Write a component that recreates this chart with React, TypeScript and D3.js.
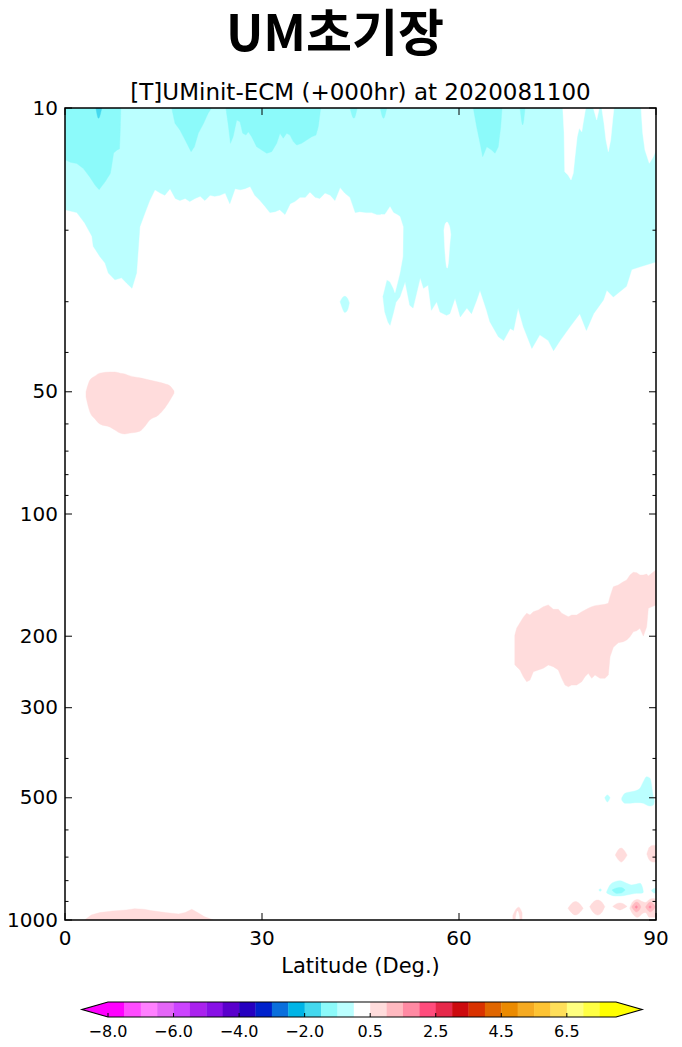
import React from "react";
import * as d3 from "d3";

const W = 682;
const H = 1047;
const PLOT = { left: 65, right: 656, top: 108, bottom: 920 };
const FONT = "DejaVu Sans, Verdana, sans-serif";

// Contour levels of the temperature difference (K) and the fill of each band
const LEVELS = [-8, -7.5, -7, -6.5, -6, -5.5, -5, -4.5, -4, -3.5, -3, -2.5, -2, -1.5, -1, -0.5,
  0.5, 1, 1.5, 2, 2.5, 3, 3.5, 4, 4.5, 5, 5.5, 6, 6.5, 7, 7.5, 8];
const COLORS = ["#ff00ff", "#ff4cff", "#ff80ff", "#e466f7", "#cc44ff", "#aa22ee", "#8811e6", "#5a00cc",
  "#2600c0", "#0022cc", "#0a6fdc", "#00b4e6", "#44d8ee", "#8cfafa", "#bbffff", "#ffffff",
  "#ffdcdc", "#ffb9c0", "#ff8aa3", "#ff4c7c", "#e6284a", "#cc0a0e", "#d93200", "#e06600",
  "#eb8a00", "#f5aa22", "#fdc333", "#ffdf5a", "#ffff80", "#ffff44", "#ffff00"];
const UNDER_COLOR = "#ff00ff";
const OVER_COLOR = "#ffff00";
const CBAR_TICKS = [-8, -6, -4, -2, 0.5, 2.5, 4.5, 6.5];

const LAT_TICKS = [0, 30, 60, 90];
const P_MAJOR = [10, 50, 100, 200, 300, 500, 1000];
const P_MINOR = [20, 30, 40, 60, 70, 80, 90, 400, 600, 700, 800, 900];

type Pair = [number, number];
type Band = [number, number, number]; // latitude, upper pressure, lower pressure

// Lower edge (hPa) of the -1.0..-0.5 K layer hanging from the model top
const coolLayerEdge: Pair[] = [[0, 17.8], [1.8, 18.1], [3.0, 19.2], [4.1, 20.7], [4.3, 21.9], [5.3, 23.2], [6.1, 24.1],
  [6.6, 25.5], [7.6, 26.5], [8.6, 26.2], [9.4, 27.0], [10.2, 27.8], [10.9, 25.5], [11.4, 19.6], [12.2, 18.1],
  [12.9, 16.9], [13.7, 15.9], [14.5, 16.2], [15.2, 16.4], [16.0, 15.8], [16.8, 16.7], [17.5, 16.9], [18.3, 16.7],
  [19.0, 17.0], [19.8, 16.7], [20.6, 16.5], [21.3, 16.9], [22.1, 16.4], [22.8, 16.5], [23.6, 16.4], [24.4, 16.2],
  [25.1, 17.2], [25.9, 15.8], [26.7, 15.9], [27.4, 15.8], [28.2, 15.6], [28.9, 16.4], [29.7, 16.9], [30.5, 17.5],
  [31.2, 18.1], [32.0, 18.0], [32.7, 17.8], [33.5, 18.3], [34.3, 17.2], [35.0, 17.0], [35.8, 16.6], [36.6, 16.6],
  [37.3, 16.1], [38.1, 16.6], [38.8, 16.7], [39.6, 16.2], [40.4, 16.4], [41.1, 16.9], [41.9, 15.7], [42.6, 16.2],
  [43.4, 16.6], [44.2, 18.1], [44.9, 18.0], [45.9, 18.1], [46.7, 18.1], [47.5, 18.3], [48.3, 18.3], [48.4, 29.0],
  [48.7, 31.8], [49.2, 33.7], [49.5, 34.3], [50.0, 32.0], [50.4, 30.1], [51.0, 29.2], [51.8, 26.8], [52.5, 30.6],
  [53.0, 31.1], [54.1, 26.2], [54.6, 27.8], [55.3, 27.3], [55.8, 31.5], [56.6, 30.0], [57.1, 31.8], [58.1, 32.4],
  [58.6, 32.1], [59.4, 29.4], [60.2, 32.7], [61.2, 31.1], [61.9, 32.1], [62.7, 29.7], [63.2, 28.1], [64.2, 31.5],
  [64.7, 33.6], [66.0, 36.6], [66.8, 37.4], [67.8, 34.9], [68.3, 35.3], [69.0, 31.1], [69.8, 34.6], [71.1, 39.1],
  [72.3, 36.2], [73.6, 37.4], [74.4, 39.6], [75.4, 37.4], [76.9, 34.6], [78.4, 32.1], [79.4, 35.3], [80.5, 32.1],
  [82.0, 29.7], [82.5, 28.1], [83.5, 29.2], [85.5, 27.5], [86.3, 25.0], [87.6, 24.6], [89.8, 24.0], [90, 24.0]];

// Near-zero pockets inside that layer
const notch50N: Band[] = [[48.1, 18.3, 29.0], [48.4, 18.3, 29.0], [48.7, 18.3, 27.7], [49.0, 18.0, 26.5],
  [49.5, 17.5, 26.8], [50.0, 18.1, 27.8], [50.25, 18.2, 28.5], [50.55, 18.3, 27.3], [51.0, 18.5, 25.5],
  [51.45, 19.5, 23.2], [51.5, 19.6, 19.6]];
const sliver58N: Band[] = [[57.7, 20.0, 20.0], [57.9, 19.3, 23.0], [58.2, 19.1, 24.8], [58.4, 19.3, 23.9],
  [58.6, 19.7, 21.7], [58.75, 20.5, 20.5]];
const topGap76N: Pair[] = [[75.8, 10], [76.0, 11.5], [76.1, 14.35], [76.6, 14.62], [77.06, 15.04], [77.4, 14.48],
  [77.66, 13.18], [78.0, 11.77], [78.3, 11.22], [78.7, 11.44], [78.9, 10.91], [79.3, 10]];
const topGap81N: Pair[] = [[80.45, 10], [80.97, 10.7], [81.37, 10]];
const topGap83N: Pair[] = [[81.73, 10], [82.08, 10.91], [82.38, 11.99], [82.74, 12.81], [83.1, 11.99],
  [83.4, 10.7], [83.6, 10]];
const topGap88N: Pair[] = [[87.72, 10], [87.97, 11.52], [88.32, 12.69], [88.98, 13.68], [89.59, 13.18], [90, 12.7]];

// Isolated -1.0..-0.5 K cell near 30 hPa
const islet43N: Band[] = [[41.9, 30.0, 30.0], [42.2, 29.4, 31.0], [42.6, 29.1, 31.9], [43.0, 29.4, 31.5], [43.3, 30.2, 30.2]];

// -1.5..-1.0 K cores under the model top
const coreEq: Pair[] = [[0, 13.4], [0.8, 13.6], [1.8, 13.7], [2.8, 14.1], [3.8, 14.8], [4.6, 15.5], [5.2, 15.9],
  [5.3, 15.8], [6.1, 15.2], [6.9, 14.5], [7.1, 13.9], [7.4, 12.9], [7.9, 12.7], [8.3, 12.6], [8.4, 11.5], [8.5, 10]];
const core19N: Pair[] = [[16.25, 10], [16.75, 10.91], [17.5, 11.33], [18.3, 11.99], [19.2, 12.81], [19.7, 12.46],
  [20.3, 11.54], [21.1, 10.91], [21.8, 10.3], [22.3, 10]];
const core31N: Pair[] = [[24.5, 10], [24.9, 11.12], [25.2, 12.22], [25.6, 11.77], [26.15, 10.7], [26.65, 10.81],
  [27.06, 11.54], [27.56, 11.66], [27.91, 11.44], [28.43, 11.77], [29.19, 12.46], [29.95, 12.69], [30.72, 12.93],
  [31.48, 12.81], [32.24, 12.22], [32.74, 11.54], [33.24, 11.87], [33.76, 11.54], [34.26, 11.66], [34.77, 12.1],
  [35.28, 12.34], [36.05, 12.22], [36.81, 11.99], [37.57, 11.77], [38.22, 11.66], [38.57, 11.12], [38.94, 10]];
const core44N: Pair[] = [[43.4, 10], [44.0, 10.6], [44.5, 10]];
const core48N: Pair[] = [[48.0, 10], [48.5, 10.6], [49.0, 10]];
const core64N: Pair[] = [[62.18, 10], [62.69, 11.12], [63.2, 12.2], [63.61, 13.18], [64.22, 12.46], [64.98, 12.69],
  [65.48, 12.93], [65.98, 12.46], [66.35, 11.12], [66.55, 10]];
const core70N: Pair[] = [[69.3, 10], [69.7, 11.0], [70.05, 10]];
// -2.0..-1.5 K speck
const speck5N: Pair[] = [[4.7, 10], [5.1, 10.6], [5.6, 10]];

// Warm (+0.5..+1.0 K) cells
const warm50hPa: Band[] = [[3.2, 50.0, 51.5], [3.8, 46.8, 56.1], [4.6, 45.7, 58.4], [5.3, 45.0, 60.0], [6.9, 44.7, 61.1],
  [7.6, 44.7, 62.1], [8.4, 45.0, 63.2], [9.1, 45.2, 63.5], [9.9, 45.7, 63.2], [11.4, 46.2, 62.5], [12.2, 46.5, 60.7],
  [12.9, 46.8, 58.7], [14.2, 47.3, 57.1], [15.2, 47.8, 54.8], [16.0, 48.4, 52.4], [16.6, 49.8, 50.4]];
const warm200hPa: Band[] = [[68.5, 199, 235], [68.78, 191.2, 237.7], [69.29, 185.2, 242.2], [69.8, 179.7, 251.6],
  [70.31, 175.6, 258.8], [70.81, 177.4, 256.4], [71.32, 174.1, 244.6], [72.08, 172.4, 242.2], [72.84, 169.2, 239.9],
  [73.6, 167.5, 235.4], [74.36, 171.7, 237.7], [75.12, 171.7, 242.2], [75.64, 175.6, 253.9], [76.14, 177.4, 263.8],
  [76.65, 179.1, 266.3], [77.16, 177.4, 263.8], [77.93, 177.4, 263.8], [78.69, 174.1, 258.8], [79.19, 172.4, 251.6],
  [79.69, 170.7, 246.9], [80.21, 169.2, 253.9], [80.71, 168.2, 249.2], [81.47, 167.5, 253.9], [82.23, 166.9, 253.9],
  [82.74, 165.9, 249.2], [83.0, 159.8, 224.6], [83.5, 151.1, 213.0], [84.26, 149.6, 207.5], [85.02, 146.9, 206.3],
  [85.54, 145.4, 204.4], [86.04, 141.4, 200.6], [86.54, 139.2, 195.0], [87.06, 139.5, 193.9], [87.56, 141.4, 191.2],
  [88.07, 141.4, 199.8], [88.58, 140.6, 189.6], [88.83, 142.2, 170.7], [89.35, 140.0, 169.2], [90, 137.4, 167.5]];
const warmSurface: Band[] = [[3.0, 1000, 1000], [4.0, 972, 1000], [5.3, 959, 1000], [7.3, 950, 1000], [9.3, 945, 1000],
  [10.6, 938, 1000], [12.0, 941, 1000], [13.3, 949, 1000], [15.3, 959, 1000], [17.3, 966, 1000], [18.3, 959, 1000],
  [19.3, 941, 1000], [20.2, 959, 1000], [21.2, 981, 1000], [22.6, 1000, 1000]];
const warm69N: Band[] = [[68.2, 975, 1000], [68.6, 945, 1000], [69.1, 930, 1000], [69.6, 960, 1000]];
const warm69NGap: Band[] = [[68.65, 985, 1000], [68.9, 950, 1000], [69.2, 985, 1000]];
const warm85N650: Band[] = [[83.8, 692, 692], [84.3, 670, 712], [84.7, 665, 720], [85.1, 672, 712], [85.6, 692, 692]];
const warm89N650: Band[] = [[88.6, 688, 688], [89.0, 662, 712], [89.5, 655, 720], [90, 655, 720]];
const warm77N950: Band[] = [[76.6, 936, 936], [77.2, 910, 962], [77.7, 901, 972], [78.3, 910, 962], [78.9, 936, 936]];
const warm81N950: Band[] = [[79.9, 927, 927], [80.5, 902, 960], [81.1, 893, 972], [81.7, 902, 960], [82.2, 927, 927]];
const warm85N950: Band[] = [[83.4, 926, 926], [84.0, 912, 938], [84.5, 908, 945], [85.0, 912, 938], [85.6, 926, 926]];
const warm88N950: Band[] = [[86.0, 935, 935], [86.5, 900, 968], [87.2, 890, 985], [88.0, 902, 962], [88.4, 905, 958],
  [89.0, 890, 985], [89.6, 885, 985], [90, 890, 985]];
// +1.0..+1.5 K and +1.5..+2.0 K kernels
const warmer87N: Band[] = [[86.3, 929, 929], [86.7, 910, 948], [87.0, 903, 956], [87.4, 910, 948], [87.7, 929, 929]];
const warmer89N: Band[] = [[88.4, 929, 929], [88.8, 910, 948], [89.1, 903, 956], [89.5, 910, 948], [89.9, 929, 929]];
const hot87N: Band[] = [[86.8, 929, 929], [87.0, 922, 936], [87.2, 929, 929]];
const hot89N: Band[] = [[88.9, 929, 929], [89.1, 922, 936], [89.3, 929, 929]];

// Cool cells in the lower troposphere
const cool87N500: Band[] = [[84.78, 500.6, 506.3], [85.28, 487.4, 515.9], [86.04, 483.8, 515.9], [86.8, 481.1, 514.1],
  [87.56, 473.8, 514.1], [88.07, 456.4, 515.9], [88.58, 443.7, 521.0], [89.09, 447.7, 523.9], [89.6, 496.9, 521.0],
  [89.75, 510, 510]];
const cool83N500: Band[] = [[82.2, 500, 500], [82.6, 492, 512], [83.0, 500, 500]];
const cool85N850: Band[] = [[82.49, 851.6, 858], [83.0, 819.8, 866.4], [83.76, 804.8, 872.8], [84.52, 800.2, 872.8],
  [85.54, 812.1, 867.9], [86.3, 819.8, 863.0], [87.06, 815.3, 859.6], [87.56, 812.1, 859.6], [87.97, 835.3, 858.0],
  [88.07, 851.6, 851.6]];
const cool90N850: Band[] = [[89.3, 846, 846], [89.7, 836, 858], [90, 836, 858]];
const cool81N850: Band[] = [[81.3, 843, 843], [81.5, 837, 850], [81.7, 843, 843]];
const cooler84N850: Band[] = [[83.3, 844, 844], [84.0, 834, 860], [84.7, 832, 858], [85.3, 844, 844]];

const fromTop = (pts: Pair[]): Band[] => pts.map(([lat, p]) => [lat, 10, p]);

type Feature = { value: number; band: Band[]; smooth?: boolean };

// Painted in order: broad layers first, then pockets, cores and small cells
const FEATURES: Feature[] = [
  { value: -0.75, band: fromTop(coolLayerEdge) },
  { value: 0, band: notch50N },
  { value: 0, band: sliver58N, smooth: true },
  { value: 0, band: fromTop(topGap76N) },
  { value: 0, band: fromTop(topGap81N) },
  { value: 0, band: fromTop(topGap83N) },
  { value: 0, band: fromTop(topGap88N) },
  { value: -0.75, band: islet43N, smooth: true },
  { value: -1.25, band: fromTop(coreEq) },
  { value: -1.25, band: fromTop(core19N) },
  { value: -1.25, band: fromTop(core31N) },
  { value: -1.25, band: fromTop(core44N), smooth: true },
  { value: -1.25, band: fromTop(core48N), smooth: true },
  { value: -1.25, band: fromTop(core64N) },
  { value: -1.25, band: fromTop(core70N), smooth: true },
  { value: -1.75, band: fromTop(speck5N), smooth: true },
  { value: 0.75, band: warm50hPa, smooth: true },
  { value: 0.75, band: warm200hPa },
  { value: 0.75, band: warmSurface },
  { value: 0.75, band: warm69N, smooth: true },
  { value: 0, band: warm69NGap, smooth: true },
  { value: 0.75, band: warm85N650, smooth: true },
  { value: 0.75, band: warm89N650, smooth: true },
  { value: 0.75, band: warm77N950, smooth: true },
  { value: 0.75, band: warm81N950, smooth: true },
  { value: 0.75, band: warm85N950, smooth: true },
  { value: 0.75, band: warm88N950, smooth: true },
  { value: 1.25, band: warmer87N, smooth: true },
  { value: 1.25, band: warmer89N, smooth: true },
  { value: 1.75, band: hot87N, smooth: true },
  { value: 1.75, band: hot89N, smooth: true },
  { value: -0.75, band: cool87N500, smooth: true },
  { value: -0.75, band: cool83N500, smooth: true },
  { value: -0.75, band: cool85N850, smooth: true },
  { value: -0.75, band: cool90N850, smooth: true },
  { value: -0.75, band: cool81N850, smooth: true },
  { value: -1.25, band: cooler84N850, smooth: true },
];

const colorOf = (v: number) => {
  if (v < LEVELS[0]) return UNDER_COLOR;
  if (v >= LEVELS[LEVELS.length - 1]) return OVER_COLOR;
  const i = d3.bisectRight(LEVELS, v) - 1;
  return COLORS[i];
};

export default function App() {
  const x = d3.scaleLinear().domain([0, 90]).range([PLOT.left, PLOT.right]);
  const y = d3.scaleLog().domain([10, 1000]).range([PLOT.top, PLOT.bottom]);

  const areaGen = (smooth: boolean) =>
    d3.area<Band>()
      .x((d) => x(d[0]))
      .y0((d) => y(d[1]))
      .y1((d) => y(d[2]))
      .curve(smooth ? d3.curveMonotoneX : d3.curveLinear);

  // colour bar
  const cb = { left: 108, right: 616, top: 1002, bottom: 1017, tip: 26 };
  const cbx = d3.scaleLinear().domain([0, COLORS.length]).range([cb.left, cb.right]);
  const cbMid = (cb.top + cb.bottom) / 2;
  const fmt = (v: number) => (v < 0 ? "\u2212" : "") + Math.abs(v).toFixed(1);

  const plotW = PLOT.right - PLOT.left;
  const plotH = PLOT.bottom - PLOT.top;

  return (
    <div style={{ position: "absolute", left: 0, top: 0 }}>
      <svg width={W} height={H} viewBox={`0 0 ${W} ${H}`} style={{ display: "block", background: "#ffffff" }}>
        <defs>
          <clipPath id="plot-clip">
            <rect x={PLOT.left} y={PLOT.top} width={plotW} height={plotH} />
          </clipPath>
        </defs>

        <text x={335} y={51} textAnchor="middle" fontFamily="'Noto Sans CJK KR', 'Noto Sans', sans-serif"
          fontWeight="bold" fontSize={50} fill="#000">UM초기장</text>
        <text x={(PLOT.left + PLOT.right) / 2} y={100} textAnchor="middle" fontFamily={FONT} fontSize={23}
          fill="#000">[T]UMinit-ECM (+000hr) at 2020081100</text>

        <g clipPath="url(#plot-clip)">
          <rect x={PLOT.left} y={PLOT.top} width={plotW} height={plotH} fill={colorOf(0)} />
          {FEATURES.map((f, i) => (
            <path key={i} d={areaGen(!!f.smooth)(f.band) || ""} fill={colorOf(f.value)}
              stroke={colorOf(f.value)} strokeWidth={0.4} />
          ))}
        </g>

        {/* pressure ticks on both sides */}
        {P_MAJOR.map((p) => (
          <g key={`pM${p}`}>
            <line x1={PLOT.left} x2={PLOT.left + 7} y1={y(p)} y2={y(p)} stroke="#000" strokeWidth={1} />
            <line x1={PLOT.right} x2={PLOT.right - 7} y1={y(p)} y2={y(p)} stroke="#000" strokeWidth={1} />
            <text x={PLOT.left - 7} y={y(p)} dy="0.33em" textAnchor="end" fontFamily={FONT} fontSize={20}
              fill="#000">{p}</text>
          </g>
        ))}
        {P_MINOR.map((p) => (
          <g key={`pm${p}`}>
            <line x1={PLOT.left} x2={PLOT.left + 3.5} y1={y(p)} y2={y(p)} stroke="#000" strokeWidth={1} />
            <line x1={PLOT.right} x2={PLOT.right - 3.5} y1={y(p)} y2={y(p)} stroke="#000" strokeWidth={1} />
          </g>
        ))}
        {LAT_TICKS.map((t) => (
          <g key={`x${t}`}>
            <line x1={x(t)} x2={x(t)} y1={PLOT.bottom} y2={PLOT.bottom - 7} stroke="#000" strokeWidth={1} />
            <line x1={x(t)} x2={x(t)} y1={PLOT.top} y2={PLOT.top + 7} stroke="#000" strokeWidth={1} />
            <text x={x(t)} y={945} textAnchor="middle" fontFamily={FONT} fontSize={20} fill="#000">{t}</text>
          </g>
        ))}
        <rect x={PLOT.left} y={PLOT.top} width={plotW} height={plotH} fill="none" stroke="#000" strokeWidth={1.5} />
        <text x={(PLOT.left + PLOT.right) / 2} y={973} textAnchor="middle" fontFamily={FONT} fontSize={21}
          fill="#000">Latitude (Deg.)</text>

        {/* colour bar with triangular extensions */}
        <path d={`M${cb.left},${cb.top}L${cb.left - cb.tip},${cbMid}L${cb.left},${cb.bottom}Z`} fill={UNDER_COLOR} />
        <path d={`M${cb.right},${cb.top}L${cb.right + cb.tip},${cbMid}L${cb.right},${cb.bottom}Z`} fill={OVER_COLOR} />
        {COLORS.map((c, i) => (
          <rect key={`cb${i}`} x={cbx(i)} y={cb.top} width={cbx(i + 1) - cbx(i) + 0.3} height={cb.bottom - cb.top}
            fill={c} />
        ))}
        <path d={`M${cb.left},${cb.top}L${cb.right},${cb.top}L${cb.right + cb.tip},${cbMid}L${cb.right},${cb.bottom}` +
          `L${cb.left},${cb.bottom}L${cb.left - cb.tip},${cbMid}Z`} fill="none" stroke="#000" strokeWidth={1.2} />
        {CBAR_TICKS.map((v) => {
          const tx = cbx(LEVELS.indexOf(v));
          return (
            <g key={`cbt${v}`}>
              <line x1={tx} x2={tx} y1={cb.bottom} y2={cb.bottom - 4} stroke="#000" strokeWidth={1} />
              <text x={tx} y={1037} textAnchor="middle" fontFamily={FONT} fontSize={16} fill="#000">{fmt(v)}</text>
            </g>
          );
        })}
      </svg>
    </div>
  );
}
